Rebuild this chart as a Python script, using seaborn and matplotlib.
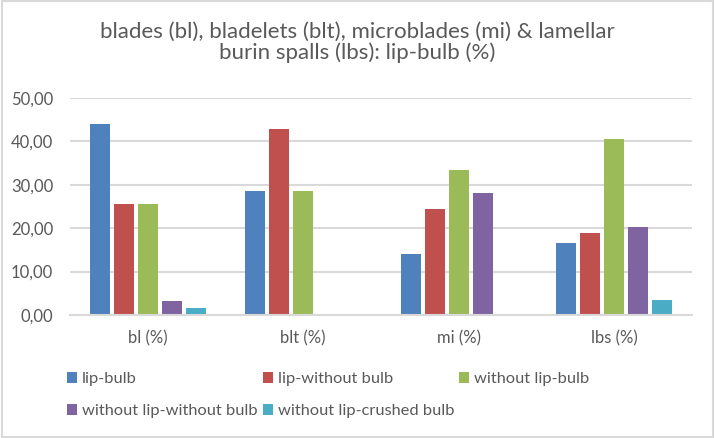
import matplotlib
matplotlib.use("Agg")
import matplotlib.pyplot as plt
import seaborn as sns
import pandas as pd
from matplotlib.patches import Rectangle
from matplotlib.ticker import FuncFormatter

categories = ["bl (%)", "blt (%)", "mi (%)", "lbs (%)"]
series = ["lip-bulb", "lip-without bulb", "without lip-bulb",
          "without lip-without bulb", "without lip-crushed bulb"]
lip_bulb = [44.0, 28.57, 14.1, 16.5]
lip_without_bulb = [25.5, 42.86, 24.4, 18.9]
without_lip_bulb = [25.5, 28.57, 33.3, 40.5]
without_lip_without_bulb = [3.2, 0.0, 28.2, 20.3]
without_lip_crushed_bulb = [1.5, 0.0, 0.0, 3.5]
colors = ["#4F81BD", "#C0504D", "#9BBB59", "#8064A2", "#4BACC6"]
title_lines = ["blades (bl), bladelets (blt), microblades (mi) & lamellar",
               "burin spalls (lbs): lip-bulb (%)"]

values = [lip_bulb, lip_without_bulb, without_lip_bulb,
          without_lip_without_bulb, without_lip_crushed_bulb]
rows = []
for s, vals in zip(series, values):
    for c, v in zip(categories, vals):
        rows.append({"category": c, "series": s, "value": v})
df = pd.DataFrame(rows)

sns.set_theme(style="white")
plt.rcParams["font.family"] = ["Lato", "DejaVu Sans"]
grey = "#595959"

fig = plt.figure(figsize=(7.15, 4.38), dpi=100)
ax = fig.add_axes([70/715, 1-315/438, 622/715, 217/438])

sns.barplot(data=df, x="category", y="value", hue="series", order=categories,
            hue_order=series, palette=colors, saturation=1, width=0.77,
            gap=0.17, linewidth=0, ax=ax, errorbar=None)

ax.set_ylim(0, 50)
ax.set_yticks([0, 10, 20, 30, 40, 50])
ax.yaxis.set_major_formatter(FuncFormatter(lambda v, p: f"{v:.2f}".replace(".", ",")))
ax.set_xlim(-0.5, 3.5)
ax.grid(axis="y", color="#D9D9D9", linewidth=1.5)
ax.set_axisbelow(True)
for side in ["left", "right", "top"]:
    ax.spines[side].set_visible(False)
ax.spines["bottom"].set_color("#D9D9D9")
ax.spines["bottom"].set_linewidth(1.5)
ax.tick_params(axis="both", length=0, labelsize=12, colors=grey)
ax.tick_params(axis="y", pad=12)
ax.tick_params(axis="x", pad=11)
ax.set_xlabel("")
ax.set_ylabel("")

handles, labels = ax.get_legend_handles_labels()
ax.get_legend().remove()
order = [0, 3, 1, 4, 2]
leg = fig.legend([handles[i] for i in order], [labels[i] for i in order],
                 ncol=3, loc="upper left", bbox_to_anchor=(67/715, 1-372/438),
                 frameon=False, borderpad=0, borderaxespad=0,
                 handlelength=0.62, handleheight=0.62, handletextpad=0.3,
                 columnspacing=0.3, labelspacing=1.1, fontsize=11.8)
for t in leg.get_texts():
    t.set_color(grey)

fig.text(357/715, 1-32/438, title_lines[0], ha="center", va="center",
         fontsize=16, color=grey)
fig.text(357/715, 1-53/438, title_lines[1], ha="center", va="center",
         fontsize=16, color=grey)

fig.patches.append(Rectangle((0.003, 0.003), 0.994, 0.994, transform=fig.transFigure,
                             fill=False, edgecolor="#D9D9D9", linewidth=1.5))

fig.savefig("out.png", dpi=100)
